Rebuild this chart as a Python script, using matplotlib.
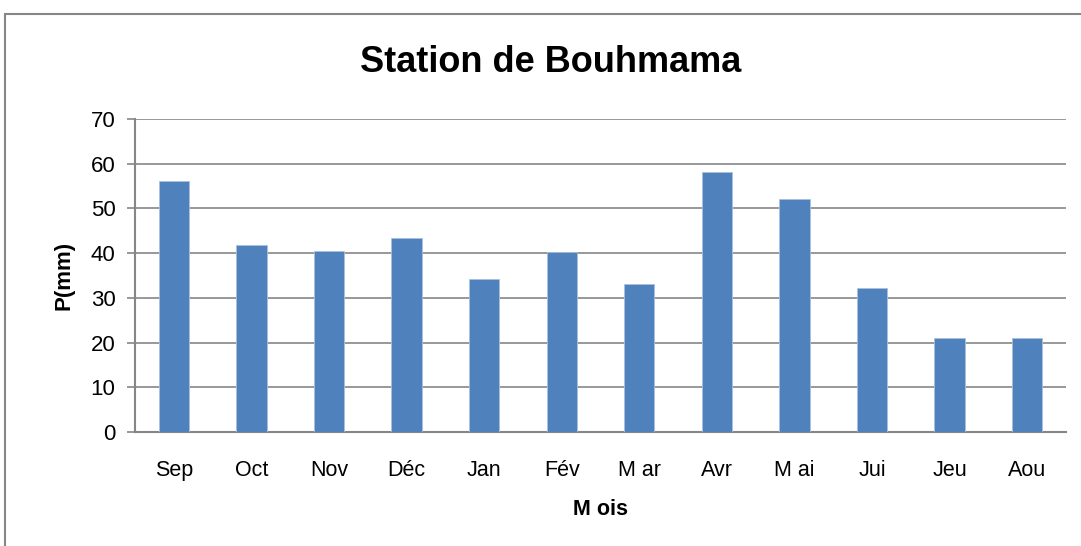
import matplotlib.pyplot as plt
import matplotlib.patches as mpatches
import numpy as np

plt.rcParams['font.family'] = ['Liberation Sans', 'DejaVu Sans']

# Monthly precipitation, station de Bouhmama
months = ["Sep", "Oct", "Nov", "Déc", "Jan", "Fév", "M ar", "Avr", "M ai", "Jui", "Jeu", "Aou"]
precip = [56.1, 41.9, 40.5, 43.4, 34.2, 40.3, 33.1, 58.1, 52.2, 32.3, 21.0, 21.0]
yticks = [0, 10, 20, 30, 40, 50, 60, 70]

grey = "#868686"

fig = plt.figure(figsize=(10.81, 5.46), dpi=100)
ax = fig.add_axes([135 / 1081, 1 - 432 / 546, 931 / 1081, 313 / 546])

# outer chart border (cropped on right/bottom)
fig.patches.append(mpatches.Rectangle((5 / 1081, -0.1), 1.2, (546 - 14) / 546 + 0.1,
                                      transform=fig.transFigure, fill=False,
                                      edgecolor=grey, linewidth=1.5))

x = np.arange(len(months))
ax.bar(x, precip, width=0.39, color="#4F81BD", edgecolor="#a9c0de", linewidth=0.6, zorder=3)

ax.set_xlim(-0.5, len(months) - 0.5)
ax.set_ylim(0, 70)
ax.set_yticks(yticks)
ax.set_xticks(x)
ax.set_xticklabels(months, fontsize=15.5)
ax.tick_params(axis="y", labelsize=16, length=6, color=grey, width=1.2, pad=8)
ax.tick_params(axis="x", length=0, pad=20)
ax.grid(axis="y", color=grey, linewidth=1.2, zorder=0)

for side in ["top", "right"]:
    ax.spines[side].set_visible(False)
for side in ["left", "bottom"]:
    ax.spines[side].set_color(grey)
    ax.spines[side].set_linewidth(1.5)

ax.set_xlabel("M ois", fontsize=15.5, fontweight="bold", labelpad=13)
ax.set_ylabel("P(mm)", fontsize=16, fontweight="bold", labelpad=12)
fig.text(551 / 1081, 1 - 63 / 546, "Station de Bouhmama", ha="center", va="center",
         fontsize=26, fontweight="bold")

fig.savefig("out.png", dpi=100)
